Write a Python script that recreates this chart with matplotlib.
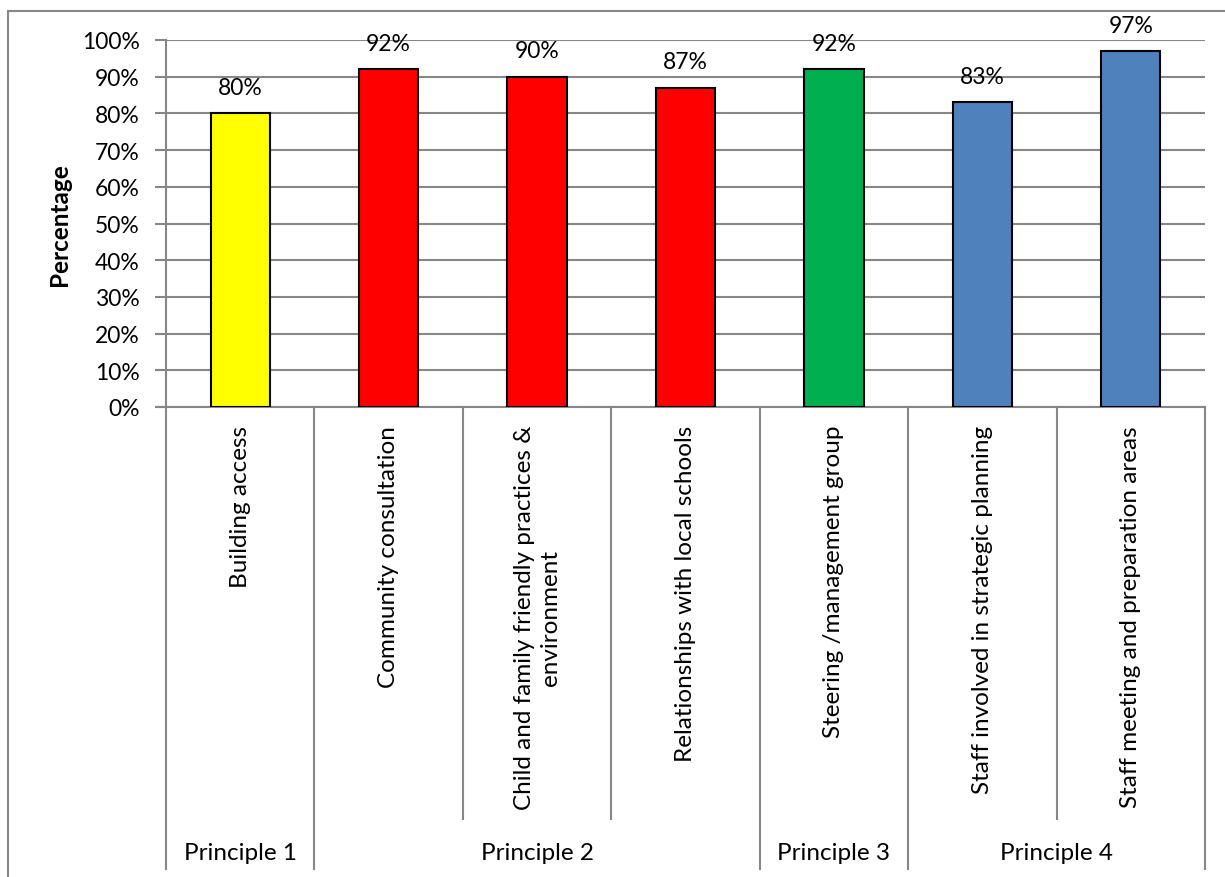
import matplotlib.pyplot as plt
from matplotlib.patches import Rectangle
from matplotlib.ticker import PercentFormatter

plt.rcParams['font.family'] = ['Lato', 'DejaVu Sans']

# Survey results per item, grouped by principle
items = ['Building access',
         'Community consultation',
         'Child and family friendly practices &\nenvironment',
         'Relationships with local schools',
         'Steering /management group',
         'Staff involved in strategic planning',
         'Staff meeting and preparation areas']
values = [80, 92, 90, 87, 92, 83, 97]
groups = ['Principle 1', 'Principle 2', 'Principle 3', 'Principle 4']
group_sizes = [1, 3, 1, 2]
group_colors = ['#FFFF00', '#FF0000', '#00B050', '#4F81BD']

W, H = 1225, 878
fig = plt.figure(figsize=(W / 100, H / 100), dpi=100)

# plot area in pixels: left 166, right 1205, top 41, bottom 408
x0, x1, y_top, y_bot = 166, 1205, 41, 408
ax = fig.add_axes([x0 / W, 1 - y_bot / H, (x1 - x0) / W, (y_bot - y_top) / H])

grey = '#878787'
colors = []
for c, n in zip(group_colors, group_sizes):
    colors += [c] * n

xs = range(len(items))
ax.bar(xs, values, width=0.4, color=colors, edgecolor='black', linewidth=1.5, zorder=3)
for x, v in zip(xs, values):
    ax.annotate(f'{v}%', (x, v), xytext=(0, 11), textcoords='offset points',
                ha='center', va='bottom', fontsize=16.5)

ax.set_xlim(-0.5, len(items) - 0.5)
ax.set_ylim(0, 100)
ax.set_yticks(range(0, 101, 10))
ax.yaxis.set_major_formatter(PercentFormatter(decimals=0))
ax.tick_params(axis='y', length=8, width=1.5, color=grey, labelsize=16.5, pad=11)
ax.set_xticks([])
ax.grid(axis='y', color=grey, linewidth=1.5, zorder=0)
for s in ['top', 'right']:
    ax.spines[s].set_visible(False)
ax.spines['left'].set_color(grey)
ax.spines['left'].set_linewidth(1.5)
ax.spines['bottom'].set_color(grey)
ax.spines['bottom'].set_linewidth(1.5)
ax.set_ylabel('Percentage', fontsize=17.5, fontweight='bold')
ax.yaxis.set_label_coords((71 - x0) / (x1 - x0), 0.5)

# multi-level category axis below the plot
ph = y_bot - y_top
def ay(py):
    return (y_bot - py) / ph

trans = ax.get_xaxis_transform()
line_kw = dict(color=grey, linewidth=1.5, transform=trans, clip_on=False)
ax.plot([-0.5 - 8 / 148, -0.5], [0, 0], **line_kw)

edges = [0]
for n in group_sizes:
    edges.append(edges[-1] + n)
for i in range(len(items) + 1):
    xe = i - 0.5
    bottom = ay(870) if i in edges else ay(820)
    ax.plot([xe, xe], [0, bottom], **line_kw)

for x, lab in zip(xs, items):
    ax.text(x, ay(426), lab, transform=trans, rotation=90, ha='center', va='top',
            multialignment='center', fontsize=17.5, linespacing=1.3)

for g, a, b in zip(groups, edges[:-1], edges[1:]):
    ax.text((a + b - 1) / 2, ay(853), g, transform=trans, ha='center', va='center',
            fontsize=17.5)

# chart border
fig.patches.append(Rectangle((8 / W, -0.05), 1.1, 1.05 - 12 / H, transform=fig.transFigure,
                             fill=False, edgecolor=grey, linewidth=1.5))

fig.savefig('out.png', dpi=100)
